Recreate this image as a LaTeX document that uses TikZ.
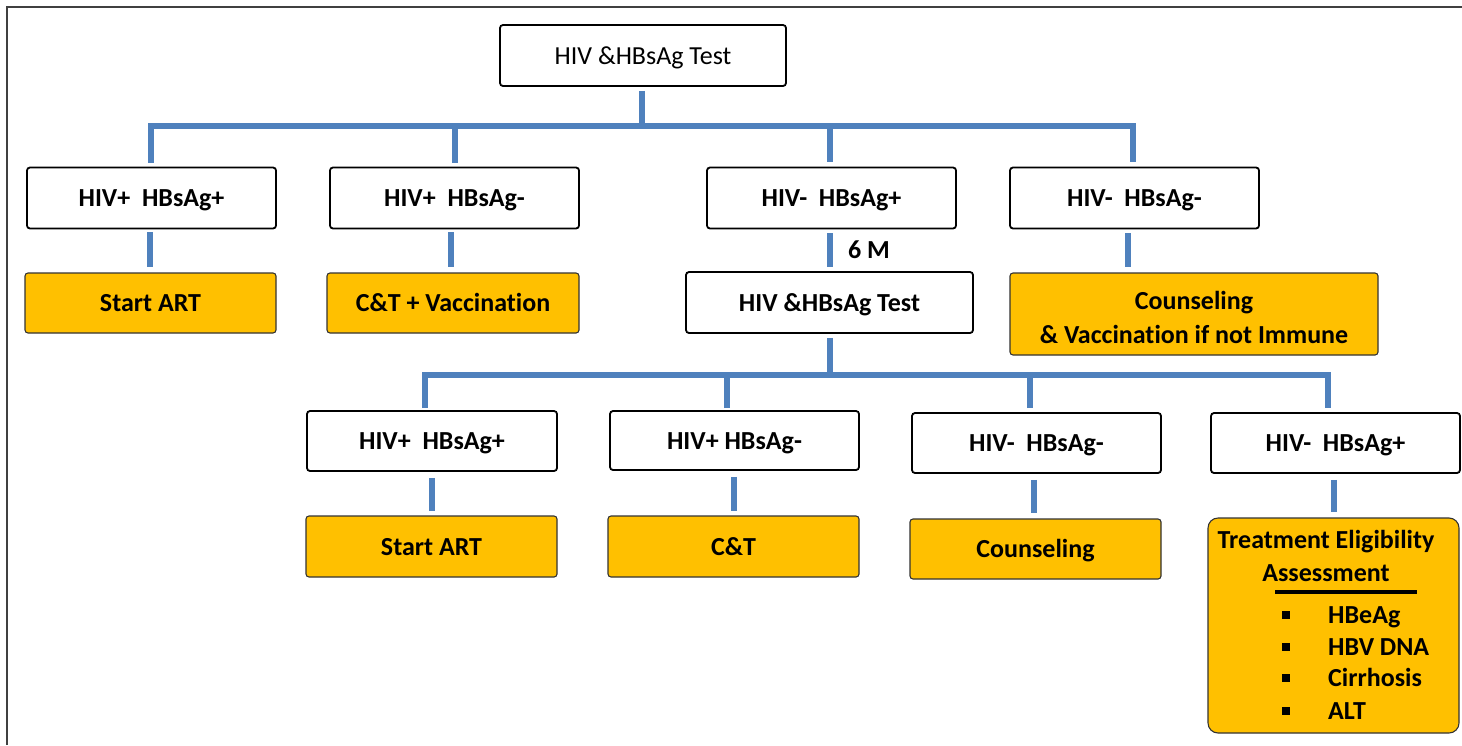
\documentclass[tikz,border=0pt]{standalone}
\usepackage{fontspec}
\setmainfont{Carlito}[RawFeature={-liga;-clig;-calt;-dlig}]
\definecolor{linkblue}{HTML}{4F81BD}
\definecolor{resultfill}{HTML}{FFC000}
\definecolor{framegray}{HTML}{404040}
\begin{document}
\begin{tikzpicture}[x=1pt,y=-1pt,
  base/.style={rounded corners=3pt, inner sep=0pt, align=center,
    font=\fontsize{26}{34}\selectfont\bfseries},
  testbox/.style={base, draw=black, line width=1.8pt, fill=white,
    minimum width=249pt, minimum height=61pt, text height=17pt, text depth=0pt},
  resultbox/.style={base, draw=black!80, line width=1.1pt, fill=resultfill,
    minimum width=251pt, minimum height=60pt},
  oneline/.style={text height=17pt, text depth=0pt},
  conn/.style={draw=linkblue, line width=6pt, line join=miter},
  lbl/.style={inner sep=0pt, font=\fontsize{26}{34}\selectfont\bfseries,
    text height=17pt, text depth=0pt},
  item/.style={inner sep=0pt, anchor=base west, font=\fontsize{26}{34}\selectfont\bfseries},
  bullet/.style={fill=black, inner sep=0pt, minimum size=7.5pt},
  frameline/.style={draw=framegray, line width=2.5pt}]

\useasboundingbox (0,0) rectangle (1462,745);
\draw[frameline] (7,745) -- (7,7) -- (1462,7);

% first test
\node[testbox, minimum width=286pt, font=\fontsize{26}{34}\selectfont]
  (test1) at (643,55.5) {HIV \&HBsAg Test};

% first-round results
\node[testbox] (r1a) at (151.5,198) {HIV+\ \ HBsAg+};
\node[testbox] (r1b) at (454.5,198) {HIV+\ \ HBsAg-};
\node[testbox] (r1c) at (831.5,198) {HIV-\ \ HBsAg+};
\node[testbox] (r1d) at (1134.5,198) {HIV-\ \ HBsAg-};

\node[resultbox, oneline] (a1a) at (150.5,303) {Start ART};
\node[resultbox, oneline, minimum width=252pt] (a1b) at (453,303) {C\&T + Vaccination};
\node[testbox, minimum width=287pt] (test2) at (829.5,302.5) {HIV \&HBsAg Test};
\node[resultbox, minimum width=368pt, minimum height=82pt]
  (a1d) at (1194,314) {\rule{0pt}{26pt}Counseling\\\& Vaccination if not Immune};

% second-round results
\node[testbox, minimum width=250pt, minimum height=60pt] (r2a) at (432,441) {HIV+\ \ HBsAg+};
\node[testbox, minimum height=59pt] (r2b) at (734.5,440.5) {HIV+ HBsAg-};
\node[testbox, minimum height=60pt] (r2c) at (1036.5,443) {HIV-\ \ HBsAg-};
\node[testbox, minimum height=60pt] (r2d) at (1335.5,443) {HIV-\ \ HBsAg+};

\node[resultbox, oneline, minimum height=61pt] (a2a) at (431.5,546.5) {Start ART};
\node[resultbox, oneline, minimum height=61pt] (a2b) at (733.5,546.5) {C\&T};
\node[resultbox, oneline] (a2c) at (1035.5,549) {Counseling};
\node[resultbox, rounded corners=10pt, minimum height=215pt] (a2d) at (1333.5,625.5) {};

% eligibility assessment contents
\node[lbl] (te1) at (1326,540) {Treatment Eligibility};
\node[lbl] (te2) at (1326,573) {Assessment};
\draw[line width=4pt] (1275,592) -- (1417,592);
\node[bullet] (b1) at (1286,615) {};
\node[bullet] (b2) at (1286,647) {};
\node[bullet] (b3) at (1286,678) {};
\node[bullet] (b4) at (1286,711) {};
\node[item] (i1) at (1328,623.5) {HBeAg};
\node[item] (i2) at (1328,655.5) {HBV DNA};
\node[item] (i3) at (1328,686.5) {Cirrhosis};
\node[item] (i4) at (1328,719.5) {ALT};

% first branching
\coordinate (bar1) at (642,126);
\draw[conn] ([xshift=-1pt,yshift=-4pt]test1.south) -- ([xshift=-1pt]test1.south |- bar1);
\draw[conn] ([xshift=-0.5pt,yshift=4pt]r1a.north) |- ([xshift=-1.5pt]r1d.north |- bar1)
  -- ([xshift=-1.5pt,yshift=5pt]r1d.north);
\draw[conn] ([yshift=4pt]r1b.north) -- (r1b.north |- bar1);
\draw[conn] ([xshift=-1.5pt,yshift=5pt]r1c.north) -- ([xshift=-1.5pt]r1c.north |- bar1);

\draw[conn] ([xshift=-1.5pt,yshift=-3pt]r1a.south) -- ([xshift=-1.5pt,yshift=5pt]r1a.south |- a1a.north);
\draw[conn] ([xshift=-3.5pt,yshift=-3pt]r1b.south) -- ([xshift=-3.5pt,yshift=5pt]r1b.south |- a1b.north);
\draw[conn] ([xshift=-1.5pt,yshift=-4pt]r1c.south) -- ([xshift=-1.5pt,yshift=4pt]r1c.south |- test2.north)
  node[midway, lbl, anchor=west, xshift=15pt] (six) {6 M};
\draw[conn] ([xshift=-7pt,yshift=-4pt]r1d.south) -- ([xshift=-7pt,yshift=5pt]r1d.south |- a1d.north);

% second branching
\coordinate (bar2) at (830,375);
\draw[conn] ([yshift=-4pt]test2.south) -- (test2.south |- bar2);
\draw[conn] ([xshift=-7pt,yshift=2pt]r2a.north) |- ([xshift=-7.5pt]r2d.north |- bar2)
  -- ([xshift=-7.5pt,yshift=4pt]r2d.north);
\draw[conn] ([xshift=-7.5pt,yshift=2pt]r2b.north) -- ([xshift=-7.5pt]r2b.north |- bar2);
\draw[conn] ([xshift=-6.5pt,yshift=4pt]r2c.north) -- ([xshift=-6.5pt]r2c.north |- bar2);

\draw[conn] ([yshift=-6pt]r2a.south -| a2a.north) -- ([yshift=4pt]a2a.north);
\draw[conn] ([yshift=-6pt]r2b.south -| a2b.north) -- ([yshift=4pt]a2b.north);
\draw[conn] ([xshift=-1.5pt,yshift=-6pt]r2c.south -| a2c.north) -- ([xshift=-1.5pt,yshift=5pt]a2c.north);
\draw[conn] ([yshift=-6pt]r2d.south -| a2d.north) -- ([yshift=5pt]a2d.north);
\end{tikzpicture}
\end{document}
